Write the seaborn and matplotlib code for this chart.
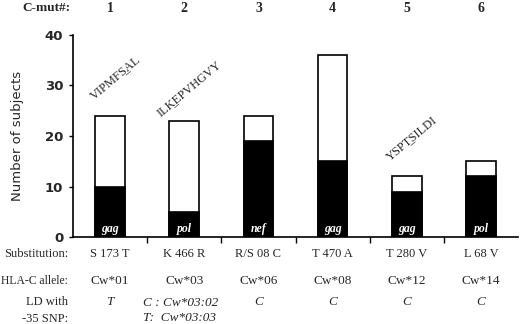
import numpy as np
import pandas as pd
import seaborn as sns
from matplotlib import pyplot as plt
from matplotlib import transforms

cmut = ["1", "2", "3", "4", "5", "6"]
totals = [24, 23, 24, 36, 12, 15]
black = [10, 5, 19, 15, 9, 12]
genes = ["gag", "pol", "nef", "gag", "gag", "pol"]
substitutions = ["S 173 T", "K 466 R", "R/S 08 C", "T 470 A", "T 280 V", "L 68 V"]
alleles = ["Cw*01", "Cw*03", "Cw*06", "Cw*08", "Cw*12", "Cw*14"]
ld_snp = ["T", "C : Cw*03:02\nT:  Cw*03:03", "C", "C", "C", "C"]
# peptide label: (column, sequence, underlined position, y value)
peptides = [(0, "VIPMFSAL", 5, 31.5), (1, "ILKEPVHGVY", 2, 29.3), (4, "YSPTSILDI", 3, 19.6)]

df = pd.DataFrame({"cmut": cmut, "total": totals, "black": black})

sns.set_style("ticks")
plt.rcParams["font.family"] = ["Liberation Serif", "DejaVu Serif"]

fig = plt.figure(figsize=(5.2, 3.24), dpi=100)
ax = fig.add_axes([0.1404, 0.2685, 0.856, 0.6235])

sns.barplot(data=df, x="cmut", y="total", color="white", edgecolor="black",
            linewidth=1.2, width=0.4, saturation=1, ax=ax)
sns.barplot(data=df, x="cmut", y="black", color="black", edgecolor="black",
            linewidth=1.2, width=0.4, saturation=1, ax=ax)

ax.set_xlim(-0.5, 5.5)
ax.set_ylim(0, 40)
ax.set_yticks([0, 10, 20, 30, 40])
ax.set_xticks([0.5, 1.5, 2.5, 3.5, 4.5])
ax.set_xticklabels([])
ax.tick_params(axis="x", direction="out", length=4, width=1, color="black")
ax.tick_params(axis="y", direction="out", length=3, width=1, color="black",
               labelsize=9.5, pad=4)
for lab in ax.get_yticklabels():
    lab.set_family("DejaVu Sans")
    lab.set_fontweight("bold")
ax.set_xlabel("")
ax.set_ylabel("Number of subjects", family="DejaVu Sans", fontsize=9.5, labelpad=15)
sns.despine(ax=ax)
for sp in ["left", "bottom"]:
    ax.spines[sp].set_linewidth(1.2)
    ax.spines[sp].set_color("black")

# gene names inside the black bars
for i, g in enumerate(genes):
    ax.text(i, 1.5, g, color="white", style="italic", fontweight="bold",
            fontsize=8.5, ha="center", va="center")

# epitope sequences
for i, seq, pos, yv in peptides:
    s = seq[: pos + 1] + "\u0332" + seq[pos + 1:]
    ax.text(i + 0.07, yv, s, rotation=40, rotation_mode="anchor", ha="center",
            va="center", fontsize=9)

# rows of annotation under / above the chart
tr = transforms.blended_transform_factory(ax.transData, fig.transFigure)
fig.text(0.135, 0.975, "C-mut#:", fontweight="bold", fontsize=9.5, ha="right", va="center")
fig.text(0.131, 0.216, "Substitution:", fontsize=9, ha="right", va="center")
fig.text(0.131, 0.133, "HLA-C allele:", fontsize=8.4, ha="right", va="center")
fig.text(0.131, 0.068, "LD with", fontsize=9, ha="right", va="center")
fig.text(0.131, 0.015, "-35 SNP:", fontsize=9, ha="right", va="center")
for i in range(len(cmut)):
    ax.text(i, 0.975, cmut[i], transform=tr, fontweight="bold", fontsize=10,
            ha="center", va="center")
    ax.text(i, 0.216, substitutions[i], transform=tr, fontsize=9,
            ha="center", va="center")
    ax.text(i, 0.133, alleles[i], transform=tr, fontsize=9.5,
            ha="center", va="center")
    if "\n" in ld_snp[i]:
        ax.text(i - 0.05, 0.042, ld_snp[i], transform=tr, fontsize=9.5,
                style="italic", ha="center", va="center", multialignment="left",
                linespacing=1.25)
    else:
        ax.text(i, 0.068, ld_snp[i], transform=tr, fontsize=9.5,
                style="italic", ha="center", va="center")

plt.savefig("out.png", dpi=100)
plt.close()
